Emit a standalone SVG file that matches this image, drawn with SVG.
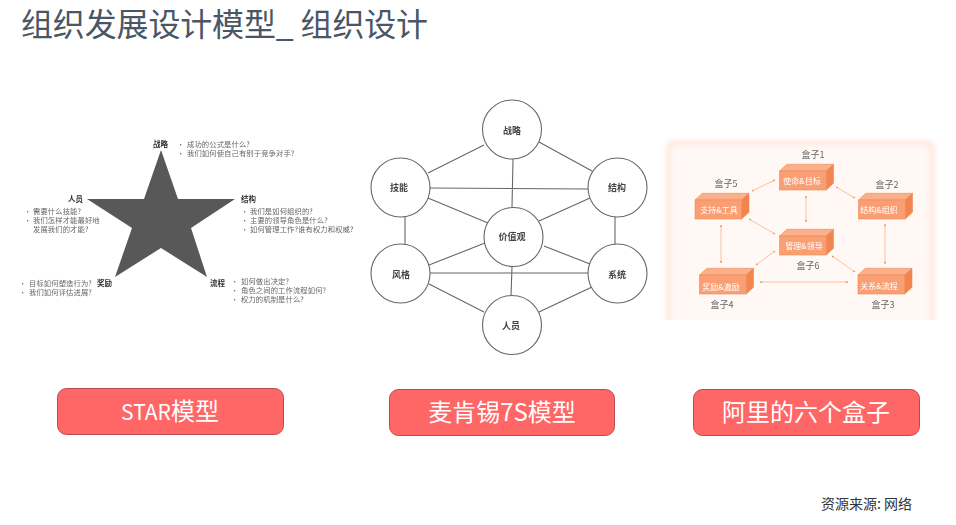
<svg xmlns="http://www.w3.org/2000/svg" width="956" height="525" viewBox="0 0 956 525">
<defs>
<style>
text{font-family:"Noto Sans CJK SC","Noto Sans",sans-serif}
.title{font-size:32px;fill:#4a5666;letter-spacing:-.15px}
.btn{fill:#ff6666;stroke:#b84c4c;stroke-width:1}
.btnt{font-size:24px;fill:#fff;text-anchor:middle}
.src{font-size:14px;fill:#333}
.sh{font-size:7.5px;font-weight:700;fill:#333}
.st{font-size:7.3px;letter-spacing:.12px;fill:#666}
.c{fill:#fff;stroke:#666;stroke-width:1.1}
.ct{font-size:9px;font-weight:700;fill:#444;text-anchor:middle}
.l{stroke:#666;stroke-width:1.1;fill:none}
.f{fill:#fa9f73;stroke:#ee8a58;stroke-width:.6}
.t{fill:#fbb08b;stroke:#ee8a58;stroke-width:.6}
.s{fill:#f2844e;stroke:#ee8a58;stroke-width:.6}
.bt{font-size:8px;fill:#fff;text-anchor:middle}
.bl{font-size:9px;fill:#666;text-anchor:middle}
.a{stroke:#f8b488;stroke-width:.8;fill:none;marker-start:url(#ah);marker-end:url(#ah)}
</style>
<marker id="ah" viewBox="0 0 6 6" refX="5" refY="3" markerWidth="3" markerHeight="3" orient="auto-start-reverse"><path d="M0 0L6 3L0 6z" fill="#f29a60"/></marker>
<filter id="soft" x="-5%" y="-5%" width="110%" height="110%"><feGaussianBlur stdDeviation="0.35"/></filter>
<filter id="glow" x="-10%" y="-10%" width="120%" height="120%"><feGaussianBlur stdDeviation="2.500"/></filter>
<clipPath id="pc"><rect x="660" y="135" width="280" height="185"/></clipPath>
<g id="box"><path class="t" d="M0 0L7.300-6.700H54L46.700 0z"/><path class="s" d="M46.700 0L54-6.700V12.300L46.700 19z"/><rect class="f" width="46.700" height="19"/></g>
</defs>
<rect width="956" height="525" fill="#fff"/>
<text class="title" x="21" y="36">组织发展设计模型_ 组织设计</text>

<g id="star-model" filter="url(#soft)">
<polygon points="161,150 178,199 235,199 191,228 207,277 161,248 115,277 132,228 87,199 144,199" fill="#595959"/>
<text class="sh" x="153" y="147">战略</text>
<text class="st" x="177" y="147">•</text><text class="st" x="187" y="147">成功的公式是什么?</text>
<text class="st" x="177" y="156">•</text><text class="st" x="187" y="156">我们如何使自己有别于竞争对手?</text>
<text class="sh" x="241" y="202">结构</text>
<text class="st" x="241" y="214">•</text><text class="st" x="250" y="214">我们是如何组织的?</text>
<text class="st" x="241" y="223">•</text><text class="st" x="250" y="223">主要的领导角色是什么?</text>
<text class="st" x="241" y="232">•</text><text class="st" x="250" y="232">如何管理工作?谁有权力和权威?</text>
<text class="sh" x="68" y="202">人员</text>
<text class="st" x="24" y="214">•</text><text class="st" x="33" y="214">需要什么技能?</text>
<text class="st" x="24" y="223">•</text><text class="st" x="33" y="223">我们怎样才能最好地</text>
<text class="st" x="33" y="232">发展我们的才能?</text>
<text class="st" x="19" y="286">•</text><text class="st" x="29" y="286">目标如何塑造行为?</text><text class="sh" x="97" y="286">奖励</text>
<text class="st" x="19" y="295">•</text><text class="st" x="29" y="295">我们如何评估进展?</text>
<text class="sh" x="210" y="286">流程</text>
<text class="st" x="231" y="284">•</text><text class="st" x="241" y="284">如何做出决定?</text>
<text class="st" x="231" y="293">•</text><text class="st" x="241" y="293">角色之间的工作流程如何?</text>
<text class="st" x="231" y="302">•</text><text class="st" x="241" y="302">权力的机制是什么?</text>
</g>

<g id="connectors-7s" filter="url(#soft)">
<path class="l" d="M484 145L428 173M539 142L592 171M513 159L512 207M430 188L588 189M428 198L488 223M590 198L539 221M405 217V245M615 217V245M485 243L429 265M544 246L590 264M430 273H588M512 267L511 296M429 284L484 312M592 287L539 312"/>
</g>
<g id="s7-strategy" filter="url(#soft)"><circle class="c" cx="512" cy="129.500" r="29.500"/><text class="ct" x="512" y="134">战略</text></g>
<g id="s7-skills" filter="url(#soft)"><circle class="c" cx="400.500" cy="187.500" r="29.500"/><text class="ct" x="399" y="191">技能</text></g>
<g id="s7-structure" filter="url(#soft)"><circle class="c" cx="617.500" cy="187.500" r="29.500"/><text class="ct" x="617" y="191">结构</text></g>
<g id="s7-values" filter="url(#soft)"><circle class="c" cx="513.500" cy="237" r="29.500"/><text class="ct" x="512" y="240">价值观</text></g>
<g id="s7-style" filter="url(#soft)"><circle class="c" cx="400.500" cy="273.500" r="29.500"/><text class="ct" x="401" y="278">风格</text></g>
<g id="s7-systems" filter="url(#soft)"><circle class="c" cx="617.500" cy="273.500" r="29.500"/><text class="ct" x="617" y="278">系统</text></g>
<g id="s7-staff" filter="url(#soft)"><circle class="c" cx="512" cy="325" r="29.500"/><text class="ct" x="511" y="329">人员</text></g>

<g id="panel" clip-path="url(#pc)">
<rect x="666" y="140" width="269" height="195" rx="8" fill="#ffeadf" filter="url(#glow)"/>
<rect x="671" y="145" width="259" height="190" rx="8" fill="#fff8f5" filter="url(#glow)"/>
</g>
<g id="connectors-boxes" filter="url(#soft)">
<path class="a" d="M775 180L752 191"/>
<path class="a" d="M836 187L855 198"/>
<path class="a" d="M806 196V222"/>
<path class="a" d="M749 219L775 234"/>
<path class="a" d="M721 225V263"/>
<path class="a" d="M775 251L756 265"/>
<path class="a" d="M832 256L855 272"/>
<path class="a" d="M885 224V264"/>
<path class="a" d="M760 282H848"/>
</g>
<g id="box1" filter="url(#soft)"><use href="#box" x="779.500" y="171"/><text class="bt" x="802" y="184">使命&amp;目标</text><text class="bl" x="813" y="158">盒子1</text></g>
<g id="box2" filter="url(#soft)"><use href="#box" x="858.500" y="200"/><text class="bt" x="879" y="213">结构&amp;组织</text><text class="bl" x="887" y="188">盒子2</text></g>
<g id="box3" filter="url(#soft)"><use href="#box" x="858" y="275"/><text class="bt" x="879" y="289">关系&amp;流程</text><text class="bl" x="883" y="308">盒子3</text></g>
<g id="box4" filter="url(#soft)"><use href="#box" x="699.500" y="275"/><text class="bt" x="721" y="290">奖励&amp;激励</text><text class="bl" x="722" y="308">盒子4</text></g>
<g id="box5" filter="url(#soft)"><use href="#box" x="695" y="200"/><text class="bt" x="719" y="213">支持&amp;工具</text><text class="bl" x="726" y="187">盒子5</text></g>
<g id="box6" filter="url(#soft)"><use href="#box" x="779.500" y="236"/><text class="bt" x="804" y="249">管理&amp;领导</text><text class="bl" x="808" y="269">盒子6</text></g>

<g id="btn-star"><rect class="btn" x="57.500" y="388.500" width="226" height="46" rx="9"/><text class="btnt" x="170" y="420"><tspan font-size="21">STAR</tspan>模型</text></g>
<g id="btn-7s"><rect class="btn" x="389.500" y="389.500" width="225" height="46" rx="9"/><text class="btnt" x="502" y="421">麦肯锡7S模型</text></g>
<g id="btn-ali"><rect class="btn" x="693.500" y="389.500" width="226" height="46" rx="9"/><text class="btnt" x="806" y="421">阿里的六个盒子</text></g>
<text class="src" x="821" y="509">资源来源: 网络</text>
</svg>
